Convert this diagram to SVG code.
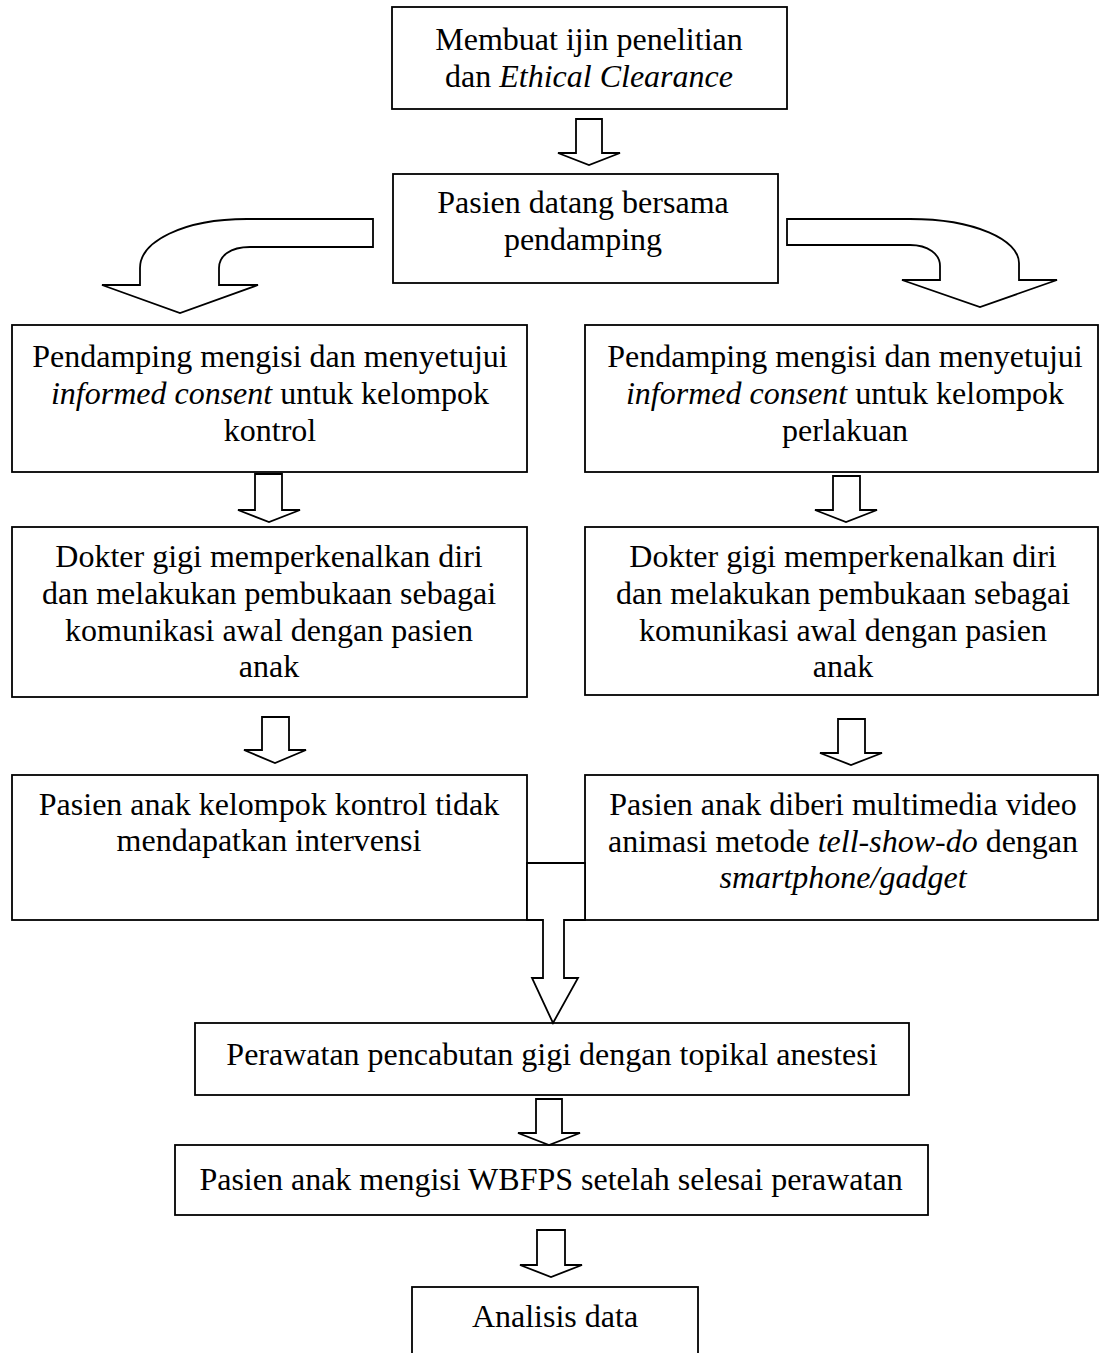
<svg xmlns="http://www.w3.org/2000/svg" width="1105" height="1353" viewBox="0 0 1105 1353">
<style>
.b{fill:#fff;stroke:#000;stroke-width:1.8}
.a{fill:#fff;stroke:#000;stroke-width:1.8;stroke-linejoin:miter}
text{font-family:"Liberation Serif","Times New Roman",serif;font-size:32px;fill:#000;text-anchor:middle}
.i{font-style:italic}
</style>
<rect width="1105" height="1353" fill="#fff"/>
<g id="n1"><rect class="b" x="392" y="7" width="395" height="102"/>
<text x="589" y="50">Membuat ijin penelitian</text>
<text x="589" y="87">dan <tspan class="i">Ethical Clearance</tspan></text></g>
<g id="n2"><rect class="b" x="393" y="174" width="385" height="109"/>
<text x="583" y="213">Pasien datang bersama</text>
<text x="583" y="250">pendamping</text></g>
<g id="n3"><rect class="b" x="12" y="325" width="515" height="147"/>
<text x="270" y="367">Pendamping mengisi dan menyetujui</text>
<text x="270" y="404"><tspan class="i">informed consent</tspan> untuk kelompok</text>
<text x="270" y="441">kontrol</text></g>
<g id="n4"><rect class="b" x="585" y="325" width="513" height="147"/>
<text x="845" y="367">Pendamping mengisi dan menyetujui</text>
<text x="845" y="404"><tspan class="i">informed consent</tspan> untuk kelompok</text>
<text x="845" y="441">perlakuan</text></g>
<g id="n5"><rect class="b" x="12" y="527" width="515" height="170"/>
<text x="269" y="567">Dokter gigi memperkenalkan diri</text>
<text x="269" y="604">dan melakukan pembukaan sebagai</text>
<text x="269" y="641">komunikasi awal dengan pasien</text>
<text x="269" y="677">anak</text></g>
<g id="n6"><rect class="b" x="585" y="527" width="513" height="168"/>
<text x="843" y="567">Dokter gigi memperkenalkan diri</text>
<text x="843" y="604">dan melakukan pembukaan sebagai</text>
<text x="843" y="641">komunikasi awal dengan pasien</text>
<text x="843" y="677">anak</text></g>
<g id="n7"><rect class="b" x="12" y="775" width="515" height="145"/>
<text x="269" y="815">Pasien anak kelompok kontrol tidak</text>
<text x="269" y="851">mendapatkan intervensi</text></g>
<g id="n8"><rect class="b" x="585" y="775" width="513" height="145"/>
<text x="843" y="815">Pasien anak diberi multimedia video</text>
<text x="843" y="852">animasi metode <tspan class="i">tell-show-do</tspan> dengan</text>
<text x="843" y="888" class="i">smartphone/gadget</text></g>
<g id="n9"><rect class="b" x="195" y="1023" width="714" height="72"/>
<text x="552" y="1065">Perawatan pencabutan gigi dengan topikal anestesi</text></g>
<g id="n10"><rect class="b" x="175" y="1145" width="753" height="70"/>
<text x="551" y="1190">Pasien anak mengisi WBFPS setelah selesai perawatan</text></g>
<g id="n11"><rect class="b" x="412" y="1287" width="286" height="80"/>
<text x="555" y="1327">Analisis data</text></g>
<g id="connectors">
<polygon class="a" points="576,119 602,119 602,153 620,153 589,165 558,153 576,153"/>
<path class="a" d="M373,219 H247 C182,219 140,242 140,268 V285 H102 L180,313 L258,285 H219 V268 C219,256 230,247 250,247 H373 Z"/>
<path class="a" d="M787,219 H910 C975,219 1019,240 1019,263 V280 H1057 L980,307 L902,280 H940 V266 C940,254 928,245 910,245 H787 Z"/>
<polygon class="a" points="255,474 282,474 282,510 300,510 269,522 238,510 255,510"/>
<polygon class="a" points="833,476 860,476 860,510 877,510 846,522 815,510 833,510"/>
<polygon class="a" points="262,717 289,717 289,750 306,750 275,763 244,750 262,750"/>
<polygon class="a" points="838,719 865,719 865,753 882,753 851,765 820,753 838,753"/>
<path class="a" d="M527,863 H585 V920 H564 V978 H578 L553,1023 L532,978 H543 V920 H527 Z"/>
<polygon class="a" points="536,1099 562,1099 562,1133 580,1133 549,1145 518,1133 536,1133"/>
<polygon class="a" points="537,1230 565,1230 565,1265 582,1265 551,1277 520,1265 537,1265"/>
</g>
</svg>
